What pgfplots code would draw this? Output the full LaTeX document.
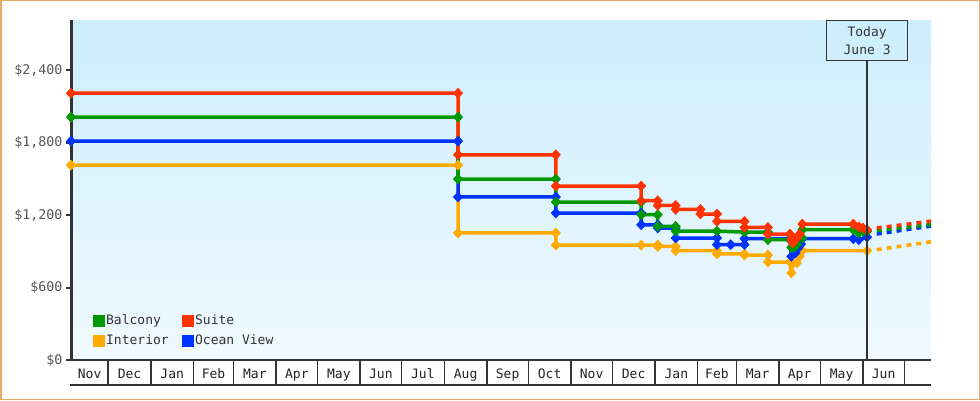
\documentclass[border=0pt]{standalone}
\usepackage{pgfplots}
\pgfplotsset{compat=1.18}
\usepackage{fontspec}
\setmainfont{DejaVu Sans Mono}
\definecolor{cred}{RGB}{255,51,0}
\definecolor{cgreen}{RGB}{0,153,0}
\definecolor{cblue}{RGB}{0,51,255}
\definecolor{corange}{RGB}{255,170,0}
\definecolor{caxis}{RGB}{51,51,51}
\definecolor{ctext}{RGB}{34,34,34}
\definecolor{cgray}{RGB}{85,85,85}
\definecolor{cframe}{RGB}{232,170,100}
\definecolor{bgtop}{RGB}{204,238,252}
\definecolor{bgbot}{RGB}{240,249,255}

\pgfplotstableread{
x y
3 2211
284 2211
284 1701
355 1701
355 1442
417 1442
417 1320
429 1320
429 1281
442 1281
442 1248
460 1248
460 1210
472 1210
472 1149
492 1149
492 1099
509 1099
509 1044
525 1044
526 997
527 970
530 1011
532 1044
534 1127
571 1127
575 1104
578 1094
581 1080
}\suite

\pgfplotstableread{
x y
3 2013
284 2013
284 1500
355 1500
355 1309
417 1309
417 1204
429 1204
429 1108
442 1108
442 1068
472 1068
492 1060
509 1060
509 997
525 997
526 934
528 934
530 956
534 1011
534 1080
571 1080
575 1053
578 1066
581 1066
}\balcony

\pgfplotstableread{
x y
3 1814
284 1814
284 1351
355 1351
355 1218
417 1218
417 1121
429 1121
429 1094
442 1094
442 1011
472 1011
472 956
482 956
492 956
492 1005
525 1005
526 859
529 887
531 928
533 960
534 1005
571 1005
575 997
581 1018
}\oceanview

\pgfplotstableread{
x y
3 1615
284 1615
284 1053
355 1053
355 953
417 953
429 953
429 941
442 941
442 906
472 906
472 879
492 879
492 870
509 870
509 812
525 812
526 722
527 804
530 804
532 859
534 906
581 906
}\interior

\pgfplotsset{series/.style={line width=3.5pt, line join=round, mark=diamond*, mark size=5pt, mark options={line width=0.5pt, xscale=1.25}, forget plot}}

\begin{document}
\begin{tikzpicture}
\path[use as bounding box] (0pt,0pt) rectangle (980pt,400pt);
\begin{axis}[
  at={(71pt,40pt)}, anchor=south west,
  scale only axis, width=860pt, height=340pt,
  xmin=3, xmax=627.4, ymin=0, ymax=2818,
  axis x line=bottom, axis y line=left,
  x axis line style={-, line width=1.5pt, draw=caxis},
  y axis line style={-, line width=3pt, draw=caxis},
  axis background/.style={top color=bgtop, bottom color=bgbot},
  tick align=outside,
  major tick length=5pt, minor tick length=25pt,
  xtick={16.5,45.5,76.5,106.5,136.5,167,197.5,228,258.5,289.5,320,350.5,381,411.5,442.5,472,501.5,532,562.5,593},
  xticklabels={Nov,Dec,Jan,Feb,Mar,Apr,May,Jun,Jul,Aug,Sep,Oct,Nov,Dec,Jan,Feb,Mar,Apr,May,Jun},
  minor xtick={30,61,92,121,152,182,213,243,274,305,335,366,396,427,458,486,517,547,578,608},
  major x tick style={draw=none},
  minor x tick style={line width=1.5pt, draw=caxis},
  ytick={0,600,1200,1800,2400},
  yticklabels={\$0,\$600,{\$1,200},{\$1,800},{\$2,400}},
  major y tick style={line width=2pt, draw=caxis},
  x tick label style={font=\fontsize{13}{15}\selectfont, text=ctext, anchor=base, yshift=-13pt},
  y tick label style={font=\fontsize{13.3}{15}\selectfont, text=cgray},
  legend columns=2,
  legend cell align=left,
  legend style={draw=none, fill=none, at={(0.0256,0.035)}, anchor=south west, inner sep=0pt,
    font=\fontsize{13}{15}\selectfont, text=caxis, row sep=6pt,
    nodes={inner sep=1.5pt},
    /tikz/every even column/.append style={column sep=12pt}},
]
\addlegendimage{legend image code/.code={\fill[cgreen] (0pt,-5.5pt) rectangle (11pt,5.5pt);}}
\addlegendentry{Balcony}
\addlegendimage{legend image code/.code={\fill[cred] (0pt,-5.5pt) rectangle (11pt,5.5pt);}}
\addlegendentry{Suite}
\addlegendimage{legend image code/.code={\fill[corange] (0pt,-5.5pt) rectangle (11pt,5.5pt);}}
\addlegendentry{Interior}
\addlegendimage{legend image code/.code={\fill[cblue] (0pt,-5.5pt) rectangle (11pt,5.5pt);}}
\addlegendentry{Ocean View}

\addplot[corange, series] table[x=x,y=y] {\interior};
\addplot[cblue, series] table[x=x,y=y] {\oceanview};
\addplot[cgreen, series] table[x=x,y=y] {\balcony};
\addplot[cred, series] table[x=x,y=y] {\suite};

\addplot[corange, line width=3.5pt, dash pattern=on 5pt off 5pt, forget plot] coordinates {(588,914) (630,984)};
\addplot[cblue, line width=3.5pt, dash pattern=on 5pt off 5pt, forget plot] coordinates {(588,1044) (630,1114)};
\addplot[cgreen, line width=3.5pt, dash pattern=on 5pt off 5pt, forget plot] coordinates {(588,1072) (630,1126)};
\addplot[cred, line width=3.5pt, dash pattern=on 5pt off 5pt, forget plot] coordinates {(588,1094) (630,1155)};

\coordinate (tt) at (axis cs:581,2818);
\coordinate (tb) at (axis cs:581,0);
\end{axis}
\node[draw=caxis, line width=1.3pt, minimum width=81pt, minimum height=40pt, anchor=north,
  align=center, font=\fontsize{13}{18}\selectfont, text=caxis, inner sep=0pt] (tbox) at (tt) {Today\\June 3};
\draw[caxis, line width=1.3pt] (tbox.south) -- (tb);
\draw[caxis, line width=1.5pt] (70pt,15pt) -- (931pt,15pt);
\draw[cframe, line width=1.5pt] (0.75pt,0.75pt) rectangle (979.25pt,399.25pt);
\end{tikzpicture}
\end{document}
